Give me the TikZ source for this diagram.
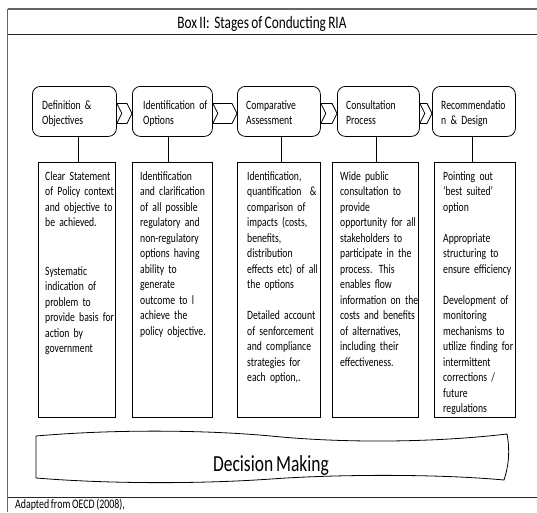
\documentclass[tikz,border=0pt]{standalone}
\usepackage{fontspec}
\setmainfont{Carlito}[FakeStretch=0.76,WordSpace=0.76]
\usetikzlibrary{calc}
\DeclareRobustCommand\txtfont{\fontsize{12.7}{15.5}\selectfont\spaceskip=2.1pt plus 0.5pt minus 0.3pt\relax}
\newcommand\chevron[2]{%
  \draw[chev] let \p1=(#1.east), \p2=(#2.west) in
    (\x1,\y1+8pt) -- (\x2-5pt,\y1+8pt) -- (\x2,\y1-2pt) -- (\x2-5pt,\y1-12pt)
    -- (\x1,\y1-12pt) -- (\x1+5pt,\y1-2pt) -- cycle;}
\newcommand\linkdown[3]{%
  \draw[link] let \p1=(#1.south), \p2=(#2.north) in (\x1+#3,\y1) -- (\x1+#3,\y2);}
\begin{document}
\begin{tikzpicture}[x=1pt,y=-1pt,
  stagebox/.style={draw=black, rounded corners=8pt, line width=0.8pt, anchor=north west, inner sep=0pt, minimum height=50pt},
  descbox/.style={draw=black, line width=0.8pt, anchor=north west, inner sep=0pt, minimum height=255pt},
  txt/.style={anchor=base west, inner sep=0pt, text width=100pt, font=\txtfont},
  link/.style={draw=black, line width=0.8pt},
  chev/.style={draw=black, line width=0.8pt, fill=white},
  frameline/.style={draw=black!60, line width=1.1pt},
  sepline/.style={draw=black!85, line width=0.9pt},
  banner/.style={draw=black, line width=0.8pt}]
\useasboundingbox (0,0) rectangle (537,512);

% frame
\draw[frameline] (7.5,9) -- (537,9);
\draw[frameline] (7.5,9) -- (7.5,512);
\draw[sepline] (7.5,34) -- (537,34);
\draw[sepline] (7.5,497) -- (537,497);
\node[anchor=base, inner sep=0pt, font=\fontsize{17.5}{20}\selectfont] (title) at (262,28) {Box II:\ \ Stages of Conducting RIA};

% stage boxes
\node[stagebox, minimum width=84pt] (s1) at (32,86) {};
\node[stagebox, minimum width=80pt] (s2) at (132,86) {};
\node[stagebox, minimum width=83pt] (s3) at (237,86) {};
\node[stagebox, minimum width=82pt] (s4) at (337,86) {};
\node[stagebox, minimum width=83pt] (s5) at (432,86) {};
\node[txt] (st1) at ([shift={(10,23)}]s1.north west) {Definition \&\\Objectives};
\node[txt] (st2) at ([shift={(11,23)}]s2.north west) {Identification of\\Options};
\node[txt] (st3) at ([shift={(9,23)}]s3.north west) {Comparative\\Assessment};
\node[txt] (st4) at ([shift={(9,23)}]s4.north west) {Consultation\\Process};
\node[txt] (st5) at ([shift={(9,23)}]s5.north west) {Recommendatio\\n \& Design};

\chevron{s1}{s2}
\chevron{s2}{s3}
\chevron{s3}{s4}
\chevron{s4}{s5}

% description boxes
\node[descbox, minimum width=77pt] (d1) at (38,162) {};
\node[descbox, minimum width=80pt] (d2) at (132,162) {};
\node[descbox, minimum width=83pt] (d3) at (237,162) {};
\node[descbox, minimum width=86pt] (d4) at (332,162) {};
\node[descbox, minimum width=81pt] (d5) at (434,162) {};

\linkdown{s1}{d1}{4pt}
\linkdown{s2}{d2}{-4pt}
\linkdown{s3}{d3}{2pt}
\linkdown{s4}{d4}{-2pt}
\linkdown{s5}{d5}{-2pt}

\node[txt] (dt1) at ([shift={(7,18)}]d1.north west) {Clear Statement\\of Policy context\\and objective to\\be achieved.\\[33pt]Systematic\\indication of\\problem to\\provide basis for\\action by\\government};
\node[txt] (dt2) at ([shift={(8,18)}]d2.north west) {Identification\\and clarification\\of all possible\\regulatory and\\non-regulatory\\options having\\ability to\\generate\\outcome to l\\achieve the\\policy objective.};
\node[txt] (dt3) at ([shift={(10,18)}]d3.north west) {Identification,\\quantification \ \&\\comparison of\\impacts (costs,\\benefits,\\distribution\\effects etc) of all\\the options\\[15.5pt]Detailed account\\of senforcement\\and compliance\\strategies for\\each option,.};
\node[txt] (dt4) at ([shift={(8,18)}]d4.north west) {Wide public\\consultation to\\provide\\opportunity for all\\stakeholders to\\participate in the\\process. This\\enables flow\\information on the\\costs and benefits\\of alternatives,\\including their\\effectiveness.};
\node[txt] (dt5) at ([shift={(9,18)}]d5.north west) {Pointing out\\`best suited'\\option\\[15.5pt]Appropriate\\structuring to\\ensure efficiency\\[15.5pt]Development of\\monitoring\\mechanisms to\\utilize finding for\\intermittent\\corrections /\\future\\regulations};

% decision making banner
\draw[banner] (36,436) .. controls (110,429.5) and (200,429.5) .. (271,436)
  .. controls (340,443) and (430,443) .. (507,434)
  .. controls (510,450) and (509,465) .. (504,480)
  .. controls (440,474) and (340,474) .. (271,479)
  .. controls (200,484) and (110,484) .. (36,478) -- cycle;
\node[anchor=base, inner sep=0pt, font=\fontsize{23}{26}\selectfont] (dm) at (271,471) {Decision Making};

\node[anchor=base west, inner sep=0pt, font=\fontsize{13}{15}\selectfont] (src) at (15,508) {Adapted from OECD (2008),};
\end{tikzpicture}
\end{document}
